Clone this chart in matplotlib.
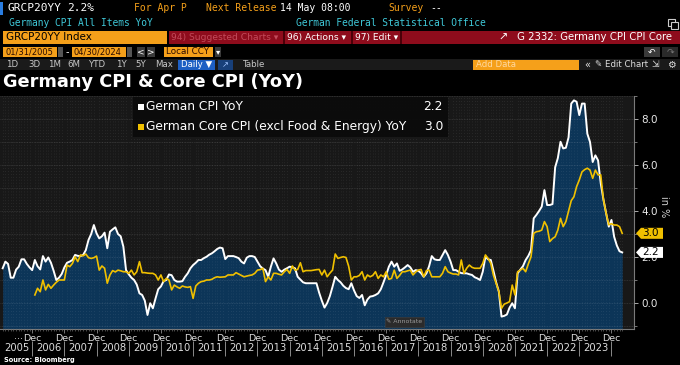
import numpy as np
import matplotlib
matplotlib.use("Agg")
import matplotlib.pyplot as plt
from matplotlib.patches import Rectangle, Polygon

# monthly values, Jan 2005 .. Apr 2024
cpi_yoy = [
    1.51, 1.8, 1.7, 1.1, 1.1, 1.45, 1.58, 1.9, 1.9, 1.7, 1.55, 1.43,      # 2005
    1.87, 1.6, 1.46, 2.04, 1.8, 1.98, 1.75, 1.4, 1.0, 1.1, 1.26, 1.55,    # 2006
    1.75, 1.8, 1.87, 2.09, 2.05, 2.04, 2.09, 2.3, 2.74, 3.0, 3.39, 3.03,  # 2007
    2.81, 2.9, 3.06, 2.38, 3.1, 3.2, 3.29, 3.0, 2.9, 2.45, 1.43, 1.25,    # 2008
    1.1, 1.0, 0.8, 0.42, 0.35, 0.1, -0.52, -0.01, -0.23, 0.2, 0.6, 0.72,  # 2009
    0.95, 1.0, 1.24, 1.21, 1.0, 0.93, 0.93, 0.95, 1.14, 1.29, 1.51, 1.65, # 2010
    1.75, 1.87, 1.87, 1.95, 2.01, 2.1, 2.16, 2.25, 2.35, 2.41, 2.38, 1.91, # 2011
    2.04, 2.04, 2.04, 2.0, 1.95, 1.8, 1.72, 1.97, 2.04, 2.04, 2.0, 1.8,   # 2012
    1.6, 1.5, 1.43, 1.14, 1.58, 1.94, 1.72, 1.45, 1.36, 1.45, 1.51, 1.58, # 2013
    1.55, 1.51, 1.14, 1.02, 0.9, 0.86, 0.86, 0.86, 0.86, 0.86, 0.45, 0.1, # 2014
    -0.2, 0.0, 0.3, 0.71, 1.14, 1.0, 0.9, 0.75, 0.65, 0.6, 0.86, 0.55,    # 2015
    0.3, 0.22, 0.35, -0.1, 0.15, 0.28, 0.3, 0.35, 0.42, 0.6, 0.9, 1.22,   # 2016
    1.58, 1.8, 1.58, 1.72, 1.4, 1.46, 1.55, 1.65, 1.55, 1.36, 1.43, 1.4,  # 2017
    1.3, 1.14, 1.29, 1.6, 2.04, 1.9, 1.87, 1.87, 2.09, 2.3, 2.09, 1.8,    # 2018
    1.43, 1.43, 1.36, 1.3, 1.29, 1.29, 1.25, 1.22, 1.12, 1.07, 1.0, 1.36, # 2019
    2.01, 1.9, 1.87, 1.4, 0.9, 0.5, -0.59, -0.56, -0.5, -0.2, -0.01, -0.23, # 2020
    1.29, 1.45, 1.6, 1.87, 2.05, 2.3, 3.68, 3.83, 4.0, 4.19, 4.91, 4.26,  # 2021
    4.26, 4.3, 5.9, 6.3, 7.01, 6.72, 6.75, 7.2, 8.67, 8.81, 8.75, 8.17,   # 2022
    8.67, 8.67, 7.36, 7.0, 6.13, 6.42, 6.2, 5.2, 4.5, 3.9, 3.32, 3.61,    # 2023
    2.88, 2.5, 2.25, 2.2,                                                 # 2024
]

# core series starts Jan 2006
core_yoy = [
    0.35, 0.64, 0.49, 1.0, 0.57, 0.81, 0.64, 0.78, 0.9, 1.0, 1.0, 1.0,    # 2006
    1.65, 1.58, 1.72, 2.01, 1.8, 2.09, 2.05, 2.13, 1.97, 1.94, 1.97, 2.04, # 2007
    1.43, 1.61, 1.51, 0.86, 1.22, 1.41, 1.35, 1.43, 1.4, 1.36, 1.36, 1.29, # 2008
    1.43, 1.22, 1.36, 1.8, 1.32, 1.32, 1.3, 1.29, 1.29, 1.22, 1.0, 1.22,  # 2009
    0.93, 1.07, 1.0, 0.57, 0.78, 0.7, 0.64, 0.74, 0.7, 0.68, 0.71, 0.2,   # 2010
    0.74, 0.86, 0.93, 0.95, 1.0, 1.0, 1.03, 1.1, 1.14, 1.12, 1.13, 1.14,  # 2011
    1.22, 1.22, 1.22, 1.32, 1.26, 1.2, 1.14, 1.17, 1.2, 1.22, 1.29, 1.43, # 2012
    1.45, 1.51, 0.93, 1.14, 1.0, 1.29, 1.29, 1.25, 1.22, 1.36, 1.46, 1.29, # 2013
    1.61, 1.43, 1.46, 1.75, 1.36, 1.41, 1.41, 1.41, 1.43, 1.45, 1.46, 1.22, # 2014
    1.43, 1.14, 1.3, 1.43, 2.13, 1.94, 1.98, 2.01, 1.98, 1.6, 1.0, 1.14,  # 2015
    1.14, 1.2, 1.36, 1.0, 1.22, 1.14, 1.2, 1.36, 1.07, 1.22, 1.14, 1.36,  # 2016
    1.03, 1.07, 1.43, 1.07, 1.2, 1.36, 1.36, 1.4, 1.43, 1.22, 1.35, 1.43, # 2017
    1.46, 1.14, 1.41, 1.43, 1.14, 1.14, 1.14, 1.14, 1.29, 1.58, 1.36, 1.3, # 2018
    1.26, 1.26, 1.22, 1.87, 1.29, 1.51, 1.65, 1.55, 1.51, 1.51, 1.51, 1.72, # 2019
    2.09, 1.94, 1.72, 1.2, 0.85, 0.5, -0.23, -0.05, 0.0, 0.06, 0.78, 0.35, # 2020
    1.36, 1.43, 1.51, 1.36, 1.7, 2.01, 3.03, 3.1, 3.12, 3.17, 3.54, 3.32, # 2021
    2.67, 2.8, 2.88, 3.17, 3.68, 3.32, 3.54, 4.0, 4.45, 4.62, 5.06, 5.35, # 2022
    5.7, 5.8, 5.86, 5.78, 5.42, 5.78, 5.57, 5.57, 4.5, 3.9, 3.4, 3.45,    # 2023
    3.39, 3.39, 3.32, 3.03,                                               # 2024
]

years = list(range(2005, 2024))
cpi_label = "German CPI YoY"
core_label = "German Core CPI (excl Food & Energy) YoY"

W, H = 680, 365
BG = "black"
ORANGE = "#f5a01a"
CYAN = "#3fc8d8"
RED = "#8e0c1c"
YELLOW = "#f0c000"
SANS = ["DejaVu Sans"]
MONO = ["DejaVu Sans Mono", "DejaVu Sans"]

fig = plt.figure(figsize=(W / 100, H / 100), dpi=100, facecolor=BG)


def box(x0, y0, x1, y1, color, edge="none", lw=0.0):
    fig.add_artist(Rectangle((x0 / W, 1 - y1 / H), (x1 - x0) / W, (y1 - y0) / H,
                             transform=fig.transFigure, facecolor=color,
                             edgecolor=edge, lw=lw))


def txt(x, y, s, color="white", size=7, ha="left", family=SANS, **kw):
    fig.text(x / W, 1 - y / H, s, color=color, fontsize=size, ha=ha,
             va="center", family=family, **kw)


# ---- terminal header ----
box(0, 2, 3, 15, "#2a7de1")
txt(8, 8, "GRCP20YY", size=8, family=MONO)
txt(67, 8, "2.2%", size=8, family=MONO)
txt(134, 8, "For Apr P", ORANGE, family=MONO)
txt(206, 8, "Next Release", ORANGE, family=MONO)
txt(280, 8, "14 May 08:00", family=MONO)
txt(388, 8, "Survey", ORANGE, family=MONO)
txt(430, 8, "--", family=MONO)
txt(9, 22.5, "Germany CPI All Items YoY", CYAN, size=6.9, family=MONO)
txt(296, 22.5, "German Federal Statistical Office", CYAN, size=6.9, family=MONO)
box(668, 19, 675, 26, "none", edge="#cccccc", lw=0.8)
box(671, 22, 678, 29, "black", edge="#cccccc", lw=0.8)

box(3, 31, 167, 44, ORANGE)
txt(6, 37.5, "GRCP20YY Index", "black", size=7.5)
box(169, 31, 680, 44, RED)
for xs in (283, 351, 400):
    box(xs, 31, xs + 1.5, 44, "#4a0008")
txt(171, 37.5, "94) Suggested Charts \u25be", "#c24a5a", size=6.6)
txt(287, 37.5, "96) Actions \u25be", "white", size=6.6)
txt(355, 37.5, "97) Edit \u25be", "white", size=6.6)
txt(498, 37.5, "\u2197", "white", size=8)
txt(672, 37.5, "G 2332: Germany CPI CPI Core", "white", size=7.3, ha="right")

box(3, 47, 57, 57, ORANGE)
txt(5, 52, "01/31/2005", "#2a0a00", size=6)
box(58, 47, 63, 57, "#555555")
txt(66, 52, "-", "white", size=7)
box(72, 47, 126, 57, ORANGE)
txt(74, 52, "04/30/2024", "#2a0a00", size=6)
box(127, 47, 132, 57, "#555555")
box(137, 47, 145, 57, "#3a3a3a")
txt(141, 52, "<", "white", size=6.5, ha="center")
box(147, 47, 155, 57, "#3a3a3a")
txt(151, 52, ">", "white", size=6.5, ha="center")
box(164, 47, 213, 57, ORANGE)
txt(166, 52, "Local CCY", "#2a0a00", size=6.3)
box(215, 47, 221, 57, "#3a3a3a")
txt(218, 52, "\u25be", "white", size=6, ha="center")
box(644, 47, 660, 57, "#3a3a3a")
txt(652, 52, "\u21b6", "white", size=6.5, ha="center")
box(662, 47, 678, 57, "#2a2a2a")
txt(670, 52, "\u21b7", "#777777", size=6.5, ha="center")

box(0, 59, 680, 70, "#1a1a1a")
for lab, xc in zip(["1D", "3D", "1M", "6M", "YTD", "1Y", "5Y", "Max"],
                   [12, 34, 55, 74, 98, 121, 141, 164]):
    txt(xc, 64.5, lab, "#c8c8c8", size=6.2, ha="center")
box(178, 59.5, 215, 69.5, "#1d5fc4")
txt(197, 64.5, "Daily \u25bc", "white", size=6.2, ha="center")
box(218, 59.5, 233, 69.5, "#18407a")
txt(225.5, 64.5, "\u2197", "#9fc3ff", size=6, ha="center")
txt(254, 64.5, "Table", "#c8c8c8", size=6.2, ha="center")
box(473, 59.5, 579, 69.5, ORANGE)
txt(476, 64.5, "Add Data", "#ffd9a0", size=6.2)
txt(587, 64.5, "\u00ab", "#dddddd", size=7, ha="center")
txt(595, 64.5, "\u270e Edit Chart", "#dddddd", size=6.2)
txt(655, 64.5, "\u21f2", "#dddddd", size=6.5, ha="center")
txt(671, 64.5, "\u2699", "#dddddd", size=7, ha="center")

# title
fig.text(3 / W, 1 - 82 / H, "Germany CPI & Core CPI (YoY)", color="white",
         fontsize=12.8, fontweight="bold", va="center", ha="left")

# ---- chart ----
PLOT_L, PLOT_R, PLOT_T, PLOT_B = 0, 634, 96, 329
ax = fig.add_axes([PLOT_L / W, 1 - PLOT_B / H, (PLOT_R - PLOT_L) / W,
                   (PLOT_B - PLOT_T) / H])
ax.set_facecolor("#181818")

x_cpi = np.arange(len(cpi_yoy))
x_core = np.arange(12, 12 + len(core_yoy))
y_lo, y_hi = -1.13, 9.0
ax.set_xlim(-1.0, 235.4)
ax.set_ylim(y_lo, y_hi)

ax.fill_between(x_cpi, cpi_yoy, y_lo, color="#0c3558", lw=0, zorder=1)
ax.plot(x_cpi, cpi_yoy, color="white", lw=1.4, zorder=4)
ax.plot(x_core, core_yoy, color=YELLOW, lw=1.2, zorder=4)

# dotted texture + grid
ax.set_xticks(np.arange(0, len(cpi_yoy)), minor=True)
ax.set_yticks(np.arange(0, 10, 2))
ax.set_yticks(np.arange(-1, 10, 1), minor=True)
ax.set_axisbelow(False)
ax.grid(which="minor", axis="x", color="white", alpha=0.07, lw=0.7,
        linestyle=(0, (1, 2)))
ax.grid(which="both", axis="y", color="white", alpha=0.14, lw=0.6,
        linestyle=(0, (1, 1)))

dec_pos = [12 * k + 11 for k in range(len(years))]
ax.set_xticks(dec_pos)
ax.set_xticklabels(["Dec"] * len(dec_pos))
ax.tick_params(axis="x", which="major", colors="#888888", length=3, width=0.6,
               labelcolor="#dcdcdc", labelsize=6.8, pad=0.5)
ax.tick_params(axis="x", which="minor", colors="#666666", length=1.5, width=0.5)

ax.yaxis.tick_right()
ax.yaxis.set_major_formatter(matplotlib.ticker.FormatStrFormatter("%.1f"))
ax.tick_params(axis="y", which="major", colors="#aaaaaa", length=3, width=0.7,
               labelcolor="#e8e8e8", labelsize=7.5, pad=2)
ax.tick_params(axis="y", which="minor", colors="#888888", length=2, width=0.6)

for side in ("top", "left"):
    ax.spines[side].set_visible(False)
for side in ("right", "bottom"):
    ax.spines[side].set_color("#7a7a7a")
    ax.spines[side].set_linewidth(0.8)

xt = ax.get_xaxis_transform()
ax.text(dec_pos[0] - 3.3, -0.012, "...", color="#dcdcdc", fontsize=6.8,
        ha="right", va="top", transform=xt)
for k, yr in enumerate(years):
    ax.text(12 * k + 5.3, -0.082, str(yr), color="#dcdcdc", fontsize=7.2,
            ha="center", va="center", transform=xt)
ax.vlines(dec_pos, -0.115, -0.05, transform=xt, colors="#8a8a8a", lw=0.7,
          clip_on=False)

# right-side value tags
px_to_y = (y_hi - y_lo) / (PLOT_B - PLOT_T)
for val, col in ((core_yoy[-1], YELLOW), (cpi_yoy[-1], "white")):
    h = 5.5 * px_to_y
    x0, x1, x2 = 636 / 634, 641 / 634, 663 / 634
    tag = Polygon([(x0, val), (x1, val + h), (x2, val + h), (x2, val - h),
                   (x1, val - h)], closed=True, facecolor=col, edgecolor="none",
                  transform=ax.get_yaxis_transform(), clip_on=False, zorder=10)
    ax.add_patch(tag)
    ax.text(x1 + 0.002, val, f"{val:.1f}", color="black", fontsize=7.5,
            va="center", ha="left", transform=ax.get_yaxis_transform(),
            zorder=11)

fig.text(664 / W, 1 - 207 / H, "in %", color="#d0d0d0", fontsize=7,
         rotation=-90, ha="center", va="center")


# legend panel
def ax_xy(px, py):
    return px / (PLOT_R - PLOT_L), (PLOT_B - py) / (PLOT_B - PLOT_T)


lx0, ly1 = ax_xy(133, 137)
lx1, ly0 = ax_xy(448, 97)
ax.add_patch(Rectangle((lx0, ly1), lx1 - lx0, ly0 - ly1, transform=ax.transAxes,
                       facecolor="#0a0a0a", edgecolor="none", alpha=0.92,
                       zorder=6))
for row_y, col, lab, val in ((107, "white", cpi_label, cpi_yoy[-1]),
                             (127, YELLOW, core_label, core_yoy[-1])):
    sx, sy = ax_xy(138, row_y + 3)
    sw, _ = ax_xy(6, 0)
    ax.add_patch(Rectangle((sx, sy), sw, 6 / (PLOT_B - PLOT_T),
                           transform=ax.transAxes, facecolor=col,
                           edgecolor="none", zorder=7))
    tx, ty = ax_xy(146, row_y)
    ax.text(tx, ty, lab, color="white", fontsize=8.8, va="center", ha="left",
            transform=ax.transAxes, zorder=7)
    vx, _ = ax_xy(443, row_y)
    ax.text(vx, ty, f"{val:.1f}", color="white", fontsize=8.8, va="center",
            ha="right", transform=ax.transAxes, zorder=7)

# annotate button
bx0, by1 = ax_xy(385, 326.5)
bx1, by0 = ax_xy(424, 317)
ax.add_patch(Rectangle((bx0, by1), bx1 - bx0, by0 - by1, transform=ax.transAxes,
                       facecolor="#2b2b2b", edgecolor="#3a3a3a", lw=0.5,
                       zorder=6))
ax.text((bx0 + bx1) / 2, (by0 + by1) / 2, "\u270e Annotate", color="#9a9a9a",
        fontsize=4.5, ha="center", va="center", transform=ax.transAxes, zorder=7)

fig.text(4 / W, 1 - 360 / H, "Source: Bloomberg", color="white", fontsize=4.8,
         fontweight="bold", ha="left", va="center")

fig.savefig("out.png", dpi=100, facecolor=BG)
